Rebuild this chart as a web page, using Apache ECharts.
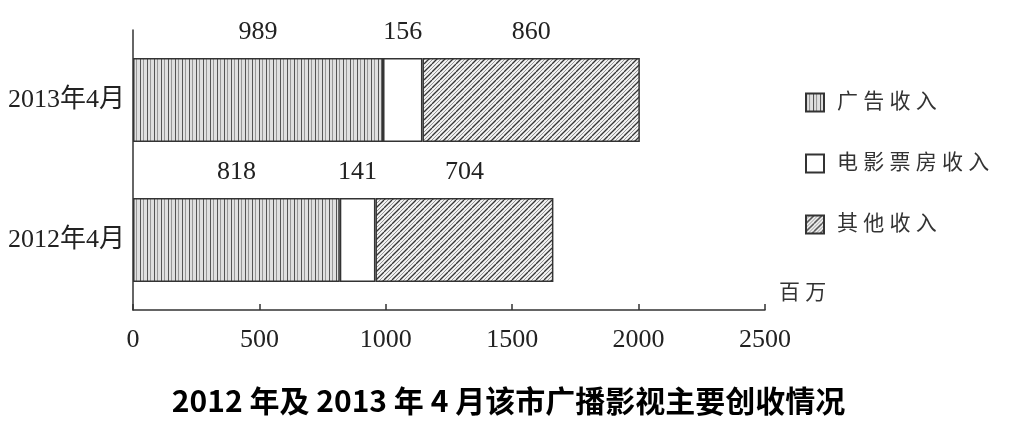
<!DOCTYPE html>
<html><head><meta charset="utf-8">
<script src="https://cdn.jsdelivr.net/npm/echarts@6/dist/echarts.min.js"></script>
<style>html,body{margin:0;padding:0;background:#fff}#c{width:1017px;height:421px}</style>
</head><body><div id="c"></div>
<script>
const categories = ['2012年4月', '2013年4月'];
const seriesNames = ['广告收入', '电影票房收入', '其他收入'];
const adRevenue = [818, 989];
const boxOffice = [141, 156];
const otherRevenue = [704, 860];
const xTicks = [0, 500, 1000, 1500, 2000, 2500];
const unitLabel = '百万';
const titleText = '2012 年及 2013 年 4 月该市广播影视主要创收情况';

function vStripe() {
  const c = document.createElement('canvas'); c.width = 7; c.height = 7;
  const g = c.getContext('2d');
  g.fillStyle = '#e0e0e0'; g.fillRect(0, 0, 7, 7);
  g.fillStyle = '#555'; g.fillRect(0, 0, 1, 7);
  g.fillStyle = '#999'; g.fillRect(3, 0, 1, 7);
  return c;
}
function diag() {
  const s = 8;
  const c = document.createElement('canvas'); c.width = s; c.height = s;
  const g = c.getContext('2d');
  g.fillStyle = '#f2f2f2'; g.fillRect(0, 0, s, s);
  for (const k of [-s, 0, s]) {
    g.strokeStyle = '#333'; g.lineWidth = 1.3;
    g.beginPath(); g.moveTo(k, s); g.lineTo(k + s, 0); g.stroke();
    g.strokeStyle = '#999'; g.lineWidth = 1;
    g.beginPath(); g.moveTo(k + s / 2, s); g.lineTo(k + s / 2 + s, 0); g.stroke();
  }
  return c;
}
const serif = '"Liberation Serif", "Noto Sans CJK SC", serif';
const spaced = (s, sep) => String(s).split('').join(sep);
const fills = [
  { image: vStripe(), repeat: 'repeat' },
  '#ffffff',
  { image: diag(), repeat: 'repeat' }
];
const values = [adRevenue, boxOffice, otherRevenue];

const chart = echarts.init(document.getElementById('c'), null, { renderer: 'canvas' });
chart.setOption({
  animation: false,
  title: {
    text: titleText, left: 'center', top: 381,
    textStyle: { fontFamily: '"Noto Sans CJK SC", sans-serif', fontWeight: 'bold', fontSize: 30, color: '#000' }
  },
  legend: {
    orient: 'vertical', left: 800, top: 87, itemGap: 40, itemWidth: 18, itemHeight: 18,
    icon: 'rect',
    data: seriesNames,
    formatter: n => spaced(n, ' '),
    textStyle: { fontFamily: serif, fontSize: 21, color: '#333', padding: [0, 0, 0, 8] }
  },
  grid: { left: 133, right: 252, top: 30, bottom: 111, containLabel: false },
  xAxis: {
    type: 'value', min: xTicks[0], max: xTicks[xTicks.length - 1], interval: 500,
    axisLine: { show: true, lineStyle: { color: '#333', width: 1.5 } },
    axisTick: { show: true, inside: true, length: 6, lineStyle: { color: '#333', width: 1.5 } },
    splitLine: { show: false },
    axisLabel: { margin: 17, fontFamily: serif, fontSize: 26, color: '#222',
      formatter: v => String(v) },
    name: spaced(unitLabel, ' '), nameLocation: 'end', nameGap: 14,
    nameTextStyle: { fontFamily: serif, fontSize: 21, color: '#333', padding: [0, 0, 6, 0], verticalAlign: 'bottom' }
  },
  yAxis: {
    type: 'category', data: categories,
    axisLine: { show: true, lineStyle: { color: '#333', width: 1.5 } },
    axisTick: { show: false },
    axisLabel: { margin: 8, fontFamily: serif, fontSize: 26, color: '#222' }
  },
  series: seriesNames.map((n, i) => ({
    name: n, type: 'bar', stack: 'total', data: values[i], barCategoryGap: '40%',
    itemStyle: { color: fills[i], borderColor: '#333', borderWidth: 1.5 },
    label: { show: true, position: 'top', distance: 13, fontFamily: serif, fontSize: 26, color: '#222',
      formatter: p => String(p.value) }
  }))
});
</script></body></html>
